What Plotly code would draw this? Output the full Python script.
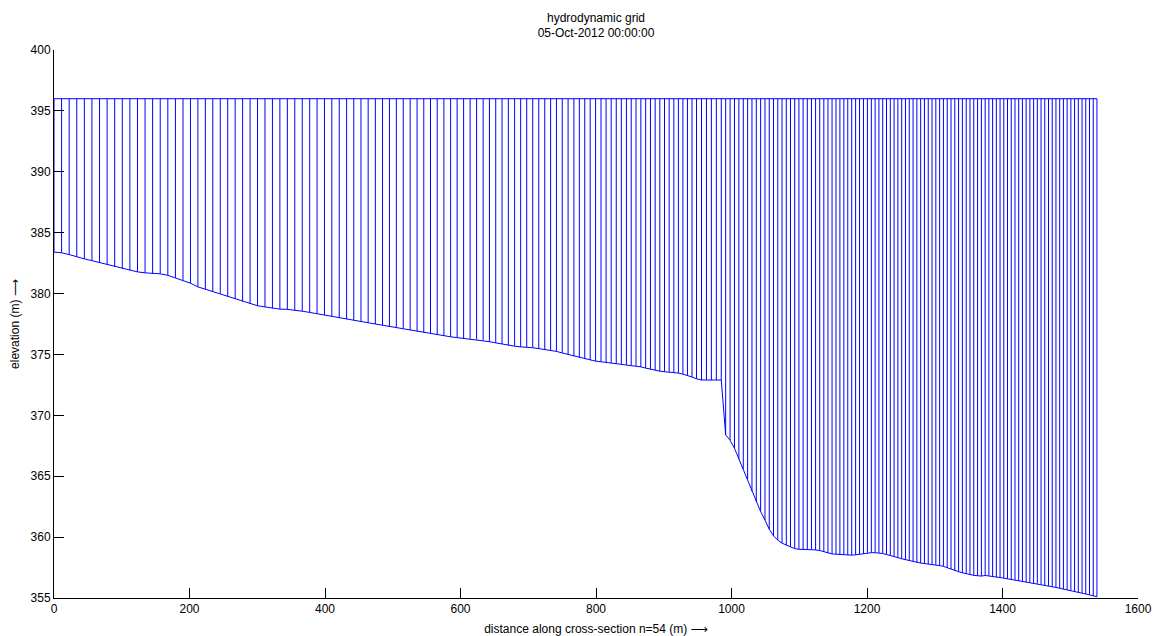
import plotly.graph_objects as go

# Cross-section n=54: node positions along the section (m)
distance = [
    0.0, 11.2, 22.4, 33.6, 44.8, 56.0, 67.2, 78.4, 89.6, 100.8,
    112.0, 123.2, 134.4, 145.6, 156.8, 168.0, 179.2, 190.4, 201.4, 212.4,
    223.4, 234.4, 245.4, 256.4, 267.4, 278.4, 289.4, 300.4, 311.4, 322.4,
    333.4, 344.4, 355.4, 366.4, 377.4,
    388.3, 399.2, 410.1, 421.0, 431.9, 442.5, 453.1, 463.7, 474.3, 484.9,
    495.1, 505.3, 515.5, 525.7, 535.9, 545.8, 555.7, 565.6, 575.5, 585.4,
    595.0, 604.6, 614.2, 623.8, 633.4, 642.7, 652.0, 661.3, 670.6, 679.9,
    688.8, 697.7, 706.6, 715.5, 724.4, 733.0, 741.6, 750.2, 758.8, 767.4,
    775.4, 783.4, 791.4, 799.4, 807.4, 814.9, 822.4, 829.9, 837.4, 844.9,
    852.0, 859.1, 866.2, 873.3, 880.4, 887.3, 894.2, 901.1, 908.0, 914.9,
    921.6, 928.3, 935.0, 941.7, 948.4, 955.7, 963.0, 970.3, 977.6, 984.9,
    991.4, 997.9, 1004.4, 1010.9, 1017.4, 1023.8, 1030.2, 1036.6, 1043.0, 1049.4,
    1055.7, 1062.0, 1068.3, 1074.6, 1080.9, 1087.1, 1093.3, 1099.5, 1105.7, 1111.9,
    1118.0, 1124.1, 1130.2, 1136.3, 1142.4, 1148.4,
    1154.2, 1160.0, 1165.8, 1171.6, 1177.4, 1183.2, 1189.0, 1194.8, 1200.6, 1206.4,
    1212.0, 1217.6, 1223.2, 1228.8, 1234.4, 1240.0, 1245.6, 1251.2, 1256.8, 1262.4,
    1268.0, 1273.6, 1279.2, 1284.8, 1290.4, 1296.0, 1301.6, 1307.2, 1312.8, 1318.4,
    1324.0, 1329.6, 1335.2, 1340.8, 1346.4, 1352.0, 1357.6, 1363.2, 1368.8, 1374.4,
    1379.9, 1385.4, 1390.9, 1396.4, 1401.9, 1407.4, 1412.9, 1418.4, 1423.9, 1429.4,
    1434.9, 1440.4, 1445.9, 1451.4, 1456.9, 1462.4, 1467.9, 1473.4, 1478.9, 1484.4,
    1489.9, 1495.4, 1500.9, 1506.4, 1511.9, 1517.4, 1522.9, 1528.4, 1533.9, 1539.4,
]

# Bed elevation at each node (m)
bed_elevation = [
    383.4, 383.35, 383.2, 383.0, 382.85, 382.7, 382.55, 382.4, 382.2, 382.05,
    381.9, 381.78, 381.7, 381.65, 381.62, 381.5, 381.3, 381.1, 380.85, 380.55,
    380.35, 380.2, 380.0, 379.75, 379.55, 379.35, 379.15, 379.0, 378.9, 378.8,
    378.72, 378.7, 378.65, 378.55, 378.45,
    378.35, 378.25, 378.15, 378.0, 377.9, 377.8, 377.72, 377.62, 377.5, 377.4,
    377.3, 377.25, 377.15, 377.0, 376.9, 376.8, 376.72, 376.62, 376.52, 376.45,
    376.38, 376.32, 376.28, 376.22, 376.15, 376.05, 375.95, 375.85, 375.75, 375.68,
    375.62, 375.6, 375.55, 375.48, 375.42, 375.35, 375.25, 375.12, 375.0, 374.85,
    374.75, 374.62, 374.52, 374.45, 374.4, 374.35, 374.3, 374.27, 374.22, 374.15,
    374.1, 374.05, 373.98, 373.88, 373.78, 373.7, 373.63, 373.58, 373.55, 373.52,
    373.47, 373.38, 373.28, 373.15, 373.0, 372.9, 372.9, 372.9, 372.9, 372.9,
    368.4, 367.95, 367.3, 366.4, 365.6, 364.75, 363.75, 362.9, 362.1, 361.4,
    360.65, 360.1, 359.75, 359.5, 359.35, 359.2, 359.05, 359.0, 359.0, 359.0,
    359.0, 358.95, 358.9, 358.8, 358.7, 358.62,
    358.6, 358.58, 358.55, 358.52, 358.52, 358.55, 358.6, 358.65, 358.7, 358.72,
    358.72, 358.7, 358.65, 358.57, 358.5, 358.42, 358.32, 358.22, 358.14, 358.06,
    357.98, 357.9, 357.87, 357.83, 357.8, 357.76, 357.71, 357.66, 357.6, 357.48,
    357.37, 357.26, 357.16, 357.07, 356.98, 356.9, 356.86, 356.83, 356.8, 356.85,
    356.82, 356.76, 356.72, 356.68, 356.63, 356.58, 356.52, 356.47, 356.42, 356.36,
    356.3, 356.26, 356.21, 356.17, 356.12, 356.06, 356.0, 355.93, 355.87, 355.8,
    355.74, 355.67, 355.6, 355.53, 355.47, 355.4, 355.33, 355.26, 355.18, 355.1,
]

water_level = 396.0

x_ticks = [0, 200, 400, 600, 800, 1000, 1200, 1400, 1600]
y_ticks = [355, 360, 365, 370, 375, 380, 385, 390, 395, 400]

BLUE = "rgb(0,0,255)"
FONT = "Liberation Sans, Arial, sans-serif"
ARROW = '<span style="font-family:DejaVu Sans">\u27f6</span>'

# Vertical grid lines: one segment per node from the bed up to the water level
vx, vy = [], []
for x, zb in zip(distance, bed_elevation):
    vx += [x, x, None]
    vy += [zb, water_level, None]

fig = go.Figure()
fig.add_trace(go.Scatter(x=vx, y=vy, mode="lines",
                         line=dict(color=BLUE, width=1), hoverinfo="skip"))
# top boundary (water surface)
fig.add_trace(go.Scatter(x=[distance[0], distance[-1]],
                         y=[water_level, water_level], mode="lines",
                         line=dict(color=BLUE, width=1)))
# bottom boundary (bed)
fig.add_trace(go.Scatter(x=distance, y=bed_elevation, mode="lines",
                         line=dict(color=BLUE, width=1)))

axis_common = dict(
    showgrid=False, zeroline=False, showline=True, linecolor="black",
    linewidth=1, ticks="inside", ticklen=10, tickwidth=1, tickcolor="black",
    tickfont=dict(family=FONT, size=12, color="black"), mirror=False,
    automargin=False,
)

fig.update_layout(
    width=1154, height=636,
    margin=dict(l=54, r=16, t=50, b=38),
    paper_bgcolor="white", plot_bgcolor="white",
    showlegend=False,
    font=dict(family=FONT, size=12, color="black"),
    title=dict(text="hydrodynamic grid<br>05-Oct-2012 00:00:00",
               x=0.5, xref="paper", xanchor="center",
               y=0.966, yref="container", yanchor="top",
               font=dict(family=FONT, size=12, color="black")),
    xaxis=dict(range=[0, 1600], tickvals=x_ticks,
               ticktext=[str(v) for v in x_ticks],
               title=dict(text="distance along cross-section n=54 (m) " + ARROW,
                          font=dict(family=FONT, size=12), standoff=10),
               **axis_common),
    yaxis=dict(range=[355, 400], tickvals=y_ticks,
               ticktext=[str(v) for v in y_ticks],
               title=dict(text="elevation (m) " + ARROW,
                          font=dict(family=FONT, size=12), standoff=8),
               **axis_common),
)

fig.write_html("out.html")
